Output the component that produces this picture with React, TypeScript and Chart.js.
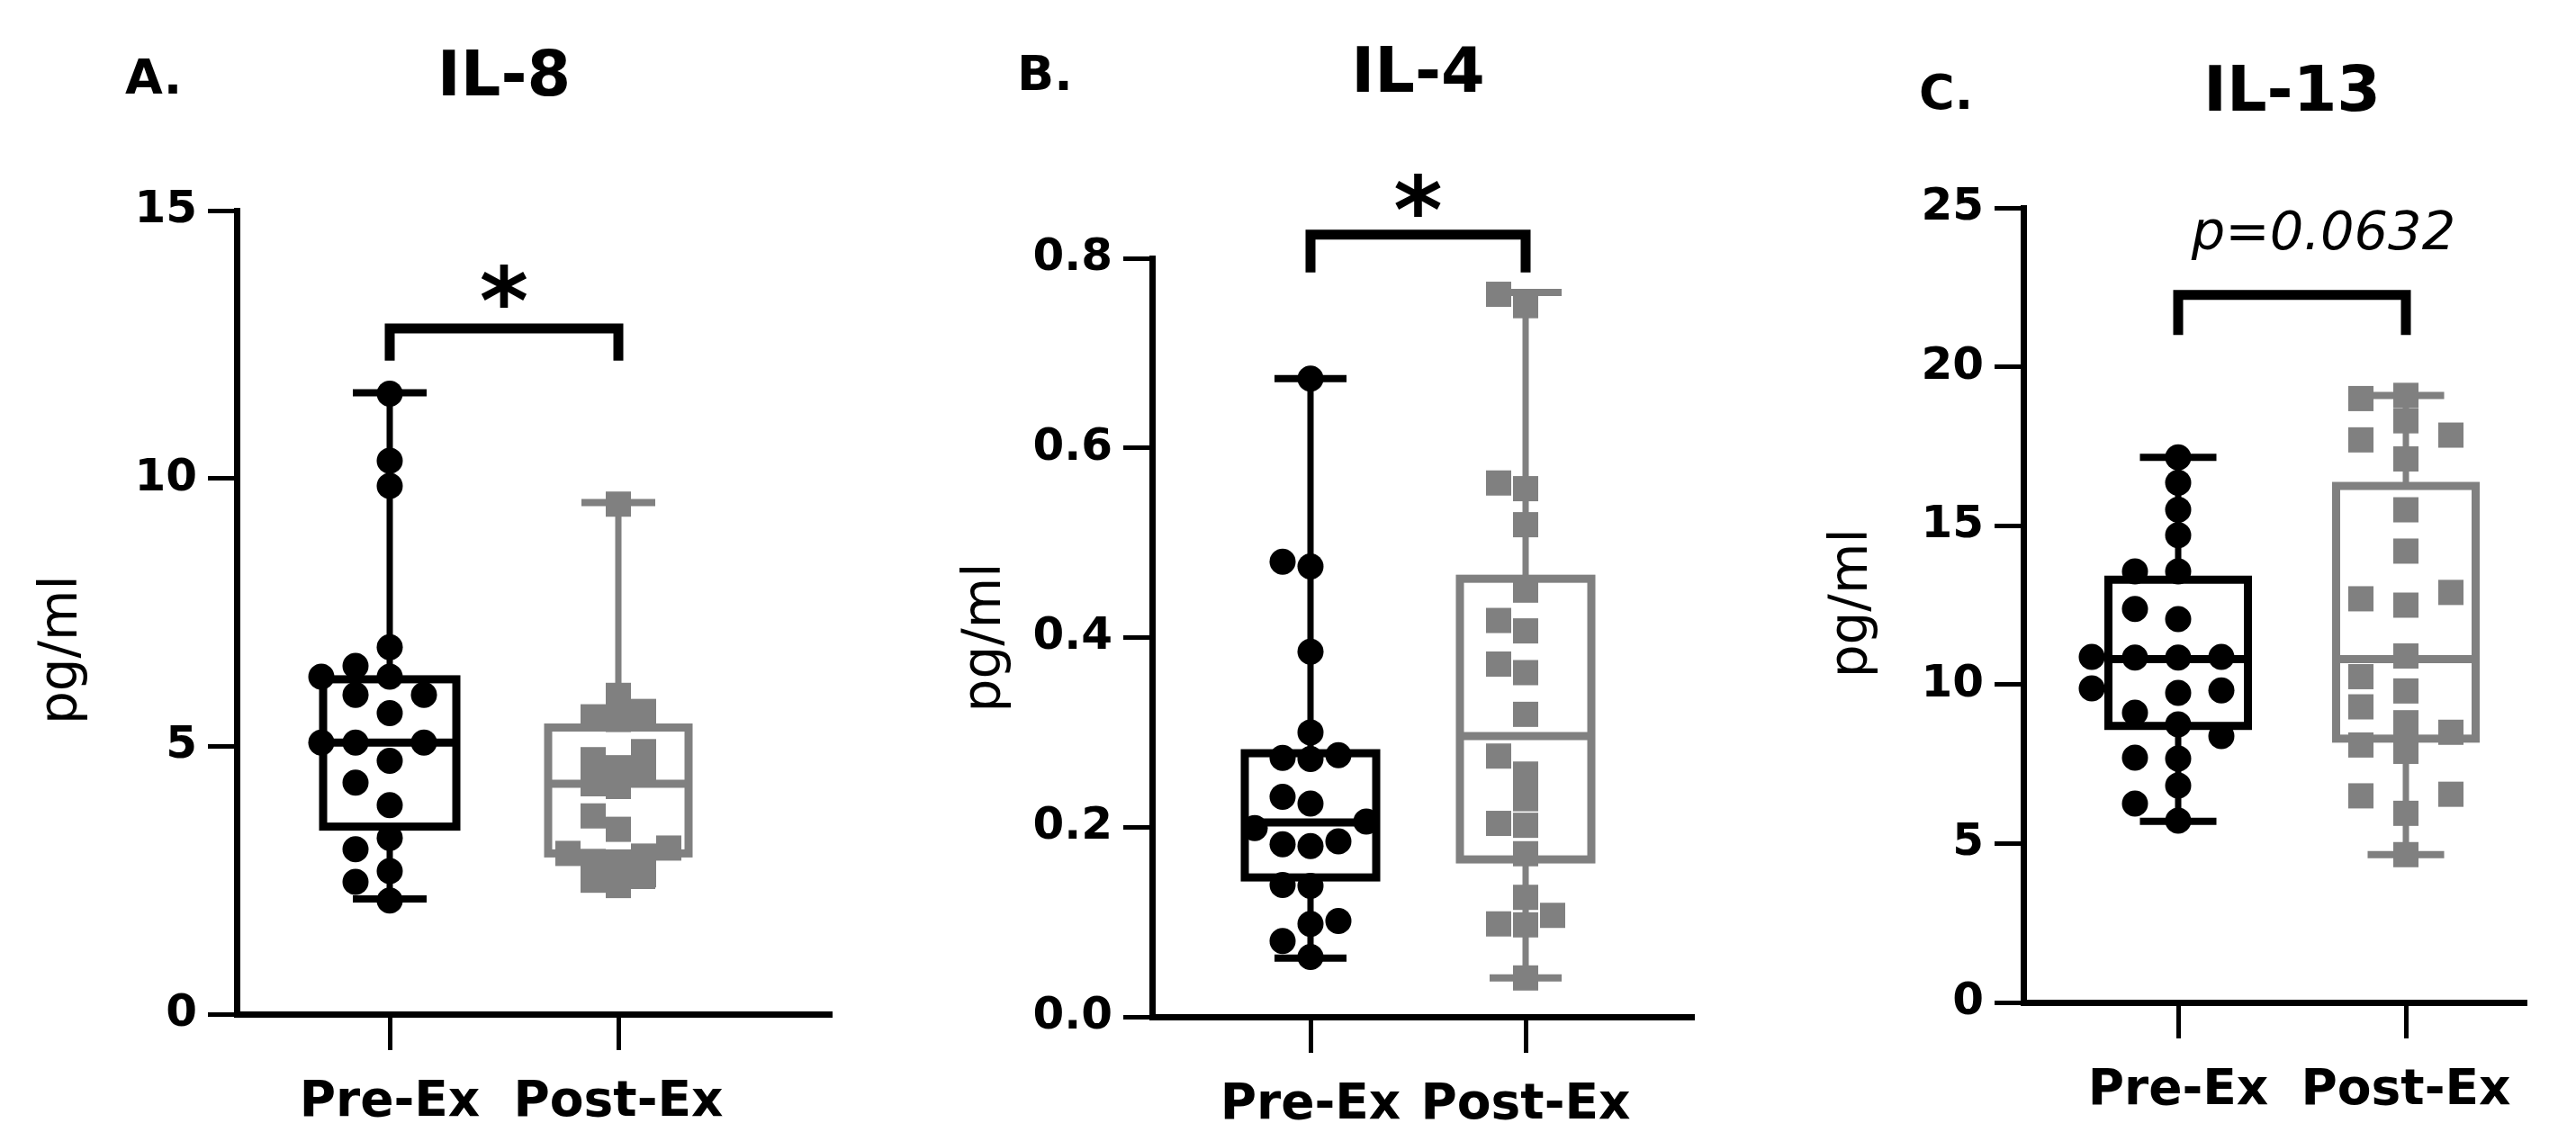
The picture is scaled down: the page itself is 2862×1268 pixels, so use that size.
import React, { useEffect, useRef } from "react";
import { Chart, registerables } from "chart.js";

Chart.register(...registerables);

// ---------------- DATA ----------------
const CATEGORIES = ["Pre-Ex", "Post-Ex"];
const PANEL_LETTERS = ["A.", "B.", "C."];
const PANEL_TITLES = ["IL-8", "IL-4", "IL-13"];
const Y_AXIS_TITLE = "pg/ml";
const SIG_LABELS = ["*", "*", "p=0.0632"];

// IL-8 (pg/ml)
const IL8_PRE = [11.58, 10.33, 9.86, 6.85, 6.5, 6.3, 6.3, 5.96, 5.96, 5.62, 5.07, 5.07, 5.07, 4.73, 4.32, 3.9, 3.29, 3.08, 2.67, 2.47, 2.12];
const IL8_POST = [9.52, 5.95, 5.65, 5.55, 5.5, 4.9, 4.75, 4.6, 4.5, 4.3, 4.25, 3.7, 3.45, 3.1, 3.0, 2.95, 2.85, 2.8, 2.6, 2.5, 2.4];
// [min, q1, median, q3, max]
const IL8_PRE_BOX = [2.15, 3.5, 5.07, 6.25, 11.6];
const IL8_POST_BOX = [2.4, 3.0, 4.3, 5.35, 9.55];
const IL8_TICKS = [0, 5, 10, 15];

// IL-4 (pg/ml)
const IL4_PRE = [0.673, 0.48, 0.475, 0.385, 0.3, 0.276, 0.273, 0.272, 0.232, 0.225, 0.206, 0.199, 0.185, 0.182, 0.18, 0.139, 0.138, 0.101, 0.098, 0.08, 0.063];
const IL4_POST = [0.762, 0.75, 0.563, 0.557, 0.519, 0.45, 0.418, 0.407, 0.372, 0.363, 0.319, 0.275, 0.256, 0.23, 0.204, 0.202, 0.172, 0.126, 0.107, 0.098, 0.097, 0.041];
const IL4_PRE_BOX = [0.062, 0.147, 0.205, 0.278, 0.673];
const IL4_POST_BOX = [0.041, 0.166, 0.296, 0.462, 0.764];
const IL4_TICKS = [0, 0.2, 0.4, 0.6, 0.8];

// IL-13 (pg/ml)
const IL13_PRE = [17.15, 16.35, 15.5, 14.7, 13.56, 13.56, 12.38, 12.06, 10.87, 10.87, 10.85, 10.85, 9.88, 9.82, 9.74, 9.12, 8.75, 8.38, 7.7, 7.67, 6.82, 6.26, 5.72];
const IL13_POST = [19.1, 19.0, 18.3, 17.85, 17.7, 17.1, 15.5, 14.2, 12.9, 12.7, 12.5, 10.9, 10.25, 9.8, 9.3, 8.8, 8.5, 8.1, 7.9, 6.55, 6.5, 5.95, 4.65];
const IL13_PRE_BOX = [5.7, 8.7, 10.8, 13.3, 17.15];
const IL13_POST_BOX = [4.65, 8.3, 10.8, 16.25, 19.1];
const IL13_TICKS = [0, 5, 10, 15, 20, 25];

const TICK_DECIMALS = [0, 1, 0];

// significance bracket / label values (data units): [bracketTop, bracketLeg, labelCenter]
const IL8_SIG_POS = [12.8, 12.2, 13.65];
const IL4_SIG_POS = [0.825, 0.785, 0.87];
const IL13_SIG_POS = [22.26, 21.0, 24.3];

const PANEL_DATA = [
  { pre: IL8_PRE, post: IL8_POST, preBox: IL8_PRE_BOX, postBox: IL8_POST_BOX, ticks: IL8_TICKS, sigPos: IL8_SIG_POS },
  { pre: IL4_PRE, post: IL4_POST, preBox: IL4_PRE_BOX, postBox: IL4_POST_BOX, ticks: IL4_TICKS, sigPos: IL4_SIG_POS },
  { pre: IL13_PRE, post: IL13_POST, preBox: IL13_PRE_BOX, postBox: IL13_POST_BOX, ticks: IL13_TICKS, sigPos: IL13_SIG_POS },
];

// ---------------- LAYOUT / STYLE ----------------
const PAGE_W = 2862;
const PAGE_H = 1268;
const FONT = '"DejaVu Sans", "Liberation Sans", Arial, sans-serif';
const BLACK = "#000000";
const GRAY = "#808080";
const DOT_D = 29;
const SQ_SIDE = 28;

const GEO = [
  { canvasLeft: 0, canvasWidth: 960, axisX: 263, plotTop: 234, plotBottom: 1127, plotRight: 922, preX: 433, postX: 687, step: 38, postStep: 28, postLim: 0.72, boxW: 148, postBoxW: 156, capW: 82, letterX: 139, baseline: 104, yLabelX: 70, yLabelAt: 6.8, sigDx: 0 },
  { canvasLeft: 960, canvasWidth: 960, axisX: 1280, plotTop: 287, plotBottom: 1130, plotRight: 1880, preX: 1456, postX: 1695, step: 31, postStep: 30, postLim: 0.95, boxW: 146, postBoxW: 146, capW: 80, letterX: 1130, baseline: 100, yLabelX: 1096, yLabelAt: 0.4, sigDx: 0 },
  { canvasLeft: 1920, canvasWidth: 942, axisX: 2248, plotTop: 231, plotBottom: 1114, plotRight: 2805, preX: 2420, postX: 2673, step: 48, postStep: 50, postLim: 0.95, boxW: 155, postBoxW: 155, capW: 85, letterX: 2132, baseline: 121, yLabelX: 2059, yLabelAt: 12.56, sigDx: 35 },
];

function beeswarm(values: number[], pxPerUnit: number, stepPx: number, size: number, square: boolean, limFactor: number): number[] {
  const order = values.map((_, i) => i).sort((a, b) => values[a] - values[b]);
  const placed: { c: number; py: number }[] = [];
  const cols = new Array(values.length).fill(0);
  const cand = [0, -1, 1, -2, 2, -3, 3, -4, 4, -5, 5, -6, 6];
  const lim = size * limFactor;
  for (const i of order) {
    const py = values[i] * pxPerUnit;
    for (const c of cand) {
      const ok = placed.every((p) => {
        const dx = Math.abs((p.c - c) * stepPx);
        const dy = Math.abs(p.py - py);
        if (square) return dx >= lim || dy >= lim;
        return dx * dx + dy * dy >= lim * lim;
      });
      if (ok) {
        cols[i] = c;
        placed.push({ c, py });
        break;
      }
    }
  }
  return cols;
}

function Panel({ index }: { index: number }) {
  const ref = useRef<HTMLCanvasElement | null>(null);
  const g = GEO[index];

  useEffect(() => {
    const d = PANEL_DATA[index];
    const canvas = ref.current;
    if (!canvas) return;
    const yMax = d.ticks[d.ticks.length - 1];
    const pxPerUnit = (g.plotBottom - g.plotTop) / yMax;
    const unitPx = g.postX - g.preX;
    const xMin = 1 - (g.preX - g.axisX) / unitPx;
    const xMax = 2 + (g.plotRight - g.postX) / unitPx;
    const preCols = beeswarm(d.pre, pxPerUnit, g.step, DOT_D, false, 0.95);
    const postCols = beeswarm(d.post, pxPerUnit, g.postStep, SQ_SIDE, true, g.postLim);
    const dec = TICK_DECIMALS[index];

    const boxPlugin = {
      id: "boxes" + index,
      beforeDatasetsDraw(chart: any) {
        const { ctx, scales } = chart;
        const x = scales.x;
        const y = scales.y;
        [d.preBox, d.postBox].forEach((b, i) => {
          const color = i === 0 ? BLACK : GRAY;
          const cx = x.getPixelForValue(i + 1);
          const [mn, q1, med, q3, mx] = b.map((v: number) => y.getPixelForValue(v));
          const hw = (i === 0 ? g.boxW : g.postBoxW) / 2;
          const cw = g.capW / 2;
          ctx.save();
          ctx.strokeStyle = color;
          ctx.lineCap = "butt";
          ctx.lineWidth = 7;
          ctx.beginPath();
          ctx.moveTo(cx, q1);
          ctx.lineTo(cx, mn);
          ctx.moveTo(cx, q3);
          ctx.lineTo(cx, mx);
          ctx.stroke();
          ctx.lineWidth = 8;
          ctx.beginPath();
          ctx.moveTo(cx - cw, mn);
          ctx.lineTo(cx + cw, mn);
          ctx.moveTo(cx - cw, mx);
          ctx.lineTo(cx + cw, mx);
          ctx.stroke();
          ctx.lineWidth = 9;
          ctx.lineJoin = "miter";
          ctx.strokeRect(cx - hw, q3, 2 * hw, q1 - q3);
          ctx.beginPath();
          ctx.moveTo(cx - hw, med);
          ctx.lineTo(cx + hw, med);
          ctx.stroke();
          ctx.restore();
        });
      },
    };

    const annotPlugin = {
      id: "annot" + index,
      afterDraw(chart: any) {
        const { ctx, scales } = chart;
        const x = scales.x;
        const y = scales.y;
        const x1 = x.getPixelForValue(1);
        const x2 = x.getPixelForValue(2);
        const mid = (x1 + x2) / 2;
        ctx.save();
        ctx.fillStyle = BLACK;
        // letter
        ctx.textAlign = "left";
        ctx.textBaseline = "alphabetic";
        ctx.font = `bold 54px ${FONT}`;
        ctx.fillText(PANEL_LETTERS[index], g.letterX - g.canvasLeft, g.baseline);
        // title
        ctx.textAlign = "center";
        ctx.font = `bold 70px ${FONT}`;
        ctx.fillText(PANEL_TITLES[index], mid, g.baseline + 2);
        // y axis title
        ctx.save();
        ctx.translate(g.yLabelX - g.canvasLeft, y.getPixelForValue(g.yLabelAt));
        ctx.rotate(-Math.PI / 2);
        ctx.textAlign = "center";
        ctx.textBaseline = "middle";
        ctx.font = `58px ${FONT}`;
        ctx.fillText(Y_AXIS_TITLE, 0, 0);
        ctx.restore();
        // bracket
        const [bt, bl, sc] = d.sigPos;
        const yt = y.getPixelForValue(bt);
        const yl = y.getPixelForValue(bl);
        ctx.strokeStyle = BLACK;
        ctx.lineWidth = 11;
        ctx.lineJoin = "miter";
        ctx.lineCap = "butt";
        ctx.beginPath();
        ctx.moveTo(x1, yl);
        ctx.lineTo(x1, yt);
        ctx.lineTo(x2, yt);
        ctx.lineTo(x2, yl);
        ctx.stroke();
        // significance label
        const label = SIG_LABELS[index];
        const ly = y.getPixelForValue(sc);
        ctx.textAlign = "center";
        ctx.textBaseline = "alphabetic";
        if (label === "*") {
          ctx.font = `bold 104px ${FONT}`;
          ctx.fillText(label, mid, ly + 0.545 * 104);
        } else {
          ctx.font = `italic 59px ${FONT}`;
          ctx.fillText(label, mid + g.sigDx, ly + 0.365 * 59);
        }
        ctx.restore();
      },
    };

    const chart = new Chart(canvas, {
      type: "scatter",
      data: {
        datasets: [
          {
            label: CATEGORIES[0],
            data: d.pre.map((v, j) => ({ x: 1 + (preCols[j] * g.step) / unitPx, y: v })),
            pointStyle: "circle",
            pointRadius: DOT_D / 2,
            pointBackgroundColor: BLACK,
            pointBorderWidth: 0,
            pointHoverRadius: DOT_D / 2,
            showLine: false,
            clip: false,
          },
          {
            label: CATEGORIES[1],
            data: d.post.map((v, j) => ({ x: 2 + (postCols[j] * g.postStep) / unitPx, y: v })),
            pointStyle: "rect",
            pointRadius: SQ_SIDE / Math.SQRT2,
            pointBackgroundColor: GRAY,
            pointBorderWidth: 0,
            pointHoverRadius: SQ_SIDE / Math.SQRT2,
            showLine: false,
            clip: false,
          },
        ],
      } as any,
      options: {
        animation: false,
        responsive: false,
        maintainAspectRatio: false,
        devicePixelRatio: 1,
        events: [],
        layout: {
          padding: { left: 0, top: g.plotTop, right: g.canvasWidth - (g.plotRight - g.canvasLeft), bottom: 0 },
        },
        plugins: { legend: { display: false }, tooltip: { enabled: false }, title: { display: false } },
        scales: {
          x: {
            type: "linear",
            min: xMin,
            max: xMax,
            afterBuildTicks: (s: any) => {
              s.ticks = [{ value: 1 }, { value: 2 }];
            },
            afterFit: (s: any) => {
              s.height = PAGE_H - g.plotBottom;
            },
            ticks: {
              autoSkip: false,
              maxRotation: 0,
              minRotation: 0,
              padding: 26,
              color: BLACK,
              font: { family: FONT, size: 55, weight: "bold" },
              callback: (v: any) => CATEGORIES[Math.round(Number(v)) - 1],
            },
            grid: { drawOnChartArea: false, drawTicks: true, tickLength: 40, tickWidth: 5, tickColor: BLACK, lineWidth: 5, color: BLACK },
            border: { display: true, color: BLACK, width: 7 },
          },
          y: {
            type: "linear",
            min: 0,
            max: yMax,
            afterBuildTicks: (s: any) => {
              s.ticks = d.ticks.map((v) => ({ value: v }));
            },
            afterFit: (s: any) => {
              s.width = g.axisX - g.canvasLeft;
            },
            ticks: {
              padding: 12,
              color: BLACK,
              font: { family: FONT, size: 50, weight: "bold" },
              callback: (v: any) => Number(v).toFixed(dec),
            },
            grid: { drawOnChartArea: false, drawTicks: true, tickLength: 32, tickWidth: 5, tickColor: BLACK, lineWidth: 5, color: BLACK },
            border: { display: true, color: BLACK, width: 7 },
          },
        },
      } as any,
      plugins: [boxPlugin, annotPlugin],
    });
    return () => chart.destroy();
  }, [index]);

  return (
    <canvas
      ref={ref}
      width={g.canvasWidth}
      height={PAGE_H}
      style={{ position: "absolute", left: g.canvasLeft, top: 0, width: g.canvasWidth, height: PAGE_H, display: "block" }}
    />
  );
}

export default function App() {
  useEffect(() => {
    document.body.style.margin = "0";
    document.body.style.background = "#ffffff";
  }, []);
  return (
    <div style={{ position: "relative", width: PAGE_W, height: PAGE_H, background: "#ffffff", overflow: "hidden" }}>
      <Panel index={0} />
      <Panel index={1} />
      <Panel index={2} />
    </div>
  );
}
